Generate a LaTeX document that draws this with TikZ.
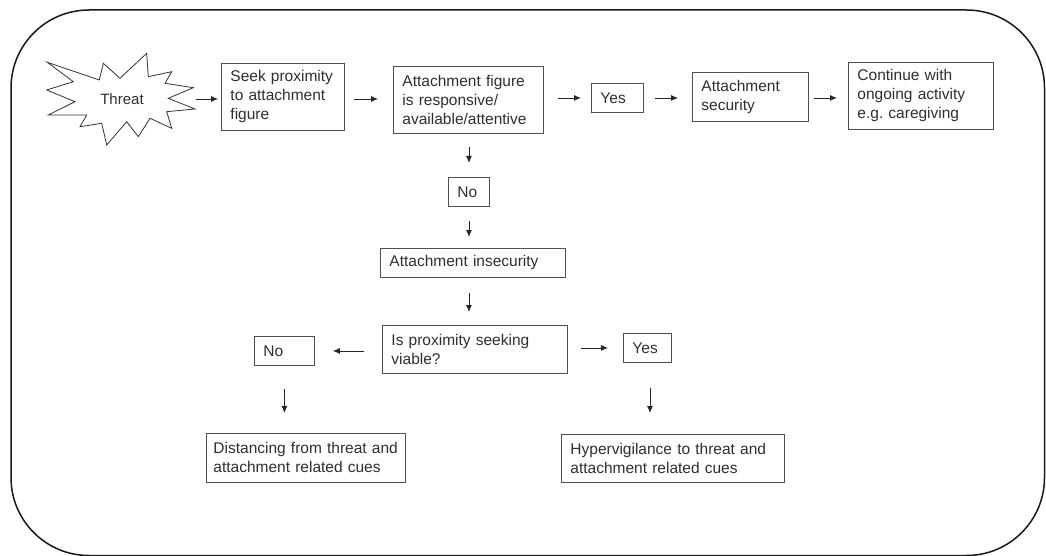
\documentclass[tikz,border=0pt]{standalone}
\usepackage{fontspec}
\setmainfont{Liberation Sans}
\usetikzlibrary{arrows.meta,calc}
\definecolor{txt}{HTML}{2e2e2e}
\definecolor{edge}{HTML}{505050}
\frenchspacing
\begin{document}
\begin{tikzpicture}[x=1pt,y=-1pt,
  box/.style={draw=edge, line width=0.9pt, align=left, inner xsep=9pt, inner ysep=0pt,
    anchor=north west, text=txt, font=\fontsize{15.5}{19}\selectfont},
  arr/.style={draw=black!85, line width=0.8pt, -{Latex[length=7pt,width=6pt]}},
  frame/.style={draw=black!90, line width=1.5pt, rounded corners=78pt},
  burst/.style={draw=black!80, line width=0.8pt, line join=miter}
]
\useasboundingbox (0,0) rectangle (1046,556);
\draw[frame] (11,10) rectangle (1044.5,555.5);

% starburst
\draw[burst] (47.3,62.3) -- (99.3,80) -- (103.3,63.3) -- (120,78.3) -- (146.7,53.3)
  -- (148.3,76.7) -- (171.7,71.7) -- (165,83.3) -- (193.3,87.7) -- (168.3,98.3)
  -- (195,109) -- (166.7,111.7) -- (171.7,128.3) -- (150,118.3) -- (138.3,136.7)
  -- (126.7,121.7) -- (106.7,145) -- (101.7,123.3) -- (80,126.7) -- (86.7,115)
  -- (48.3,115) -- (75,101.7) -- (46.7,90) -- (73.3,81.7) -- cycle;
\node[text=txt, font=\fontsize{15}{18}\selectfont] (threat) at (122,99) {Threat};
\coordinate (thrE) at (196,99);

\node[box, minimum width=123pt, minimum height=67pt, text width=105pt] (seek) at (221,63)
  {Seek proximity\\to attachment\\figure};
\node[box, minimum width=150pt, minimum height=67pt, text width=132pt] (fig) at (393,66)
  {Attachment figure\\is responsive/\\available/attentive};
\node[box, minimum width=52pt, minimum height=29pt, text width=34pt] (yesA) at (591,83) {Yes};
\node[box, minimum width=116pt, minimum height=49pt, text width=98pt] (sec) at (692,72)
  {Attachment\\security};
\node[box, minimum width=145pt, minimum height=67pt, text width=127pt] (cont) at (848,62)
  {Continue with\\ongoing activity\\e.g. caregiving};
\node[box, minimum width=41pt, minimum height=29pt, text width=23pt] (noA) at (448,177) {No};
\node[box, minimum width=185pt, minimum height=29pt, text width=167pt] (insec) at (380,248)
  {Attachment insecurity};
\node[box, minimum width=185pt, minimum height=48pt, text width=167pt] (prox) at (382,325)
  {Is proximity seeking\\viable?};
\node[box, minimum width=60pt, minimum height=29pt, text width=42pt] (noB) at (254,336) {No};
\node[box, minimum width=48pt, minimum height=29pt, text width=30pt] (yesB) at (623,333) {Yes};
\node[box, inner xsep=7pt, minimum width=199pt, minimum height=49pt, text width=185pt] (dist) at (206,433)
  {Distancing from threat and\\attachment related cues};
\node[box, minimum width=223pt, minimum height=48pt, text width=205pt] (hyp) at (561,434)
  {Hypervigilance to threat and\\attachment related cues};

% connectors
\draw[arr, shorten >=3pt] (thrE) -- (thrE -| seek.west);
\draw[arr, shorten <=9pt, shorten >=15pt] (seek.east |- thrE) -- (fig.west |- thrE);
\draw[arr, shorten <=14pt, shorten >=10pt] (fig.east |- yesA.west) -- (yesA.west);
\draw[arr, shorten <=11pt, shorten >=14pt] (yesA.east) -- (yesA.east -| sec.west);
\draw[arr, shorten <=5pt, shorten >=11pt] (sec.east |- yesA.east) -- (cont.west |- yesA.east);
\draw[arr, shorten <=13pt, shorten >=14pt] (noA.north |- fig.south) -- (noA.north);
\draw[arr, shorten <=14pt, shorten >=11pt] (noA.south) -- (noA.south |- insec.north);
\draw[arr, shorten <=15pt, shorten >=13pt] (noA.south |- insec.south) -- (noA.south |- prox.north);
\draw[arr, shorten <=18pt, shorten >=18pt] (prox.west |- noB.east) -- (noB.east);
\draw[arr, shorten <=13pt, shorten >=15pt] (prox.east |- yesB.west) -- (yesB.west);
\draw[arr, shorten <=23pt, shorten >=20pt] (noB.south) -- (noB.south |- dist.north);
\draw[arr, shorten <=25pt, shorten >=21pt] ($(yesB.south)+(2.5,0)$) -- ($(yesB.south |- hyp.north)+(2.5,0)$);
\end{tikzpicture}
\end{document}
